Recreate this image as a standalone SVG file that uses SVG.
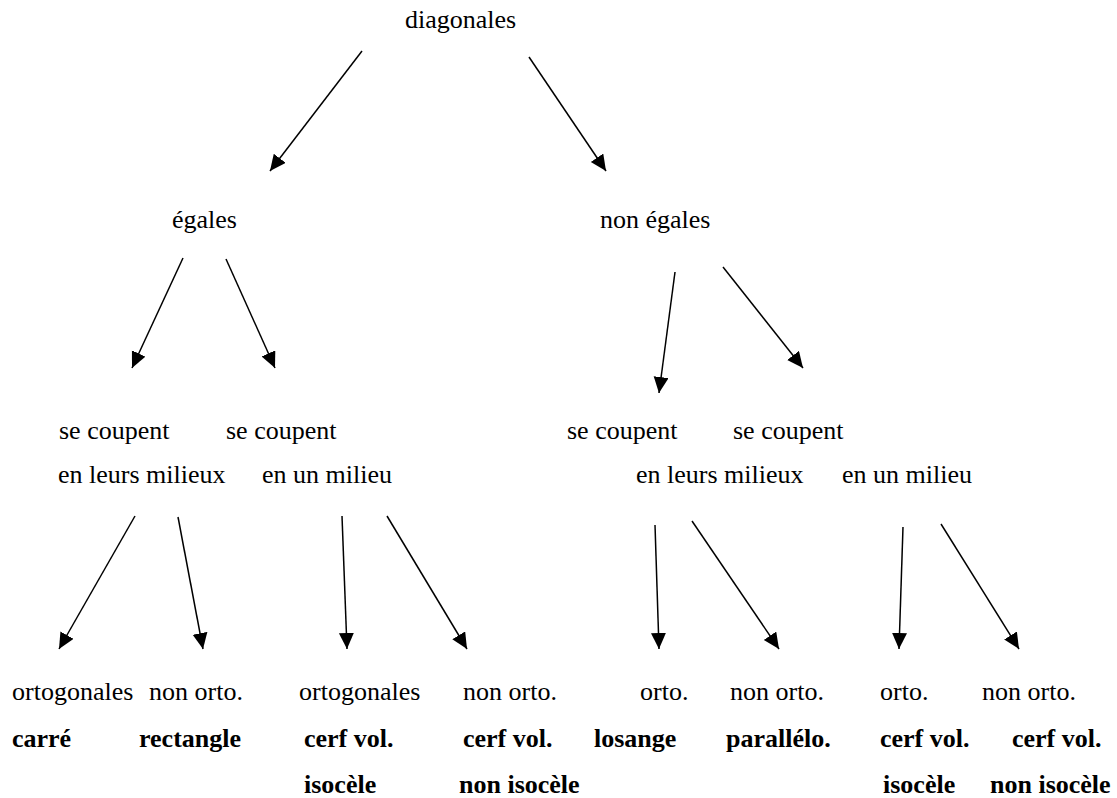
<svg xmlns="http://www.w3.org/2000/svg" width="1117" height="798" viewBox="0 0 1117 798">
  <defs>
    <style>
      text { font-family: "Liberation Serif", Tinos, "Times New Roman", "DejaVu Serif", "Noto Serif", FreeSerif, serif; font-size: 26px; fill: #000; }
      .b { font-weight: bold; }
      .edge { stroke: #000; stroke-width: 1.5; fill: none; marker-end: url(#head); }
    </style>
    <marker id="head" markerUnits="userSpaceOnUse" markerWidth="17" markerHeight="16" refX="16" refY="7.5" orient="auto">
      <path d="M0,0 L16,7.5 L0,15 z" fill="#000"/>
    </marker>
  </defs>
  <rect width="1117" height="798" fill="#fff"/>

  <!-- tree levels -->
  <g id="root"><text x="405" y="28">diagonales</text></g>
  <g id="egales"><text x="172" y="228">égales</text></g>
  <g id="non-egales"><text x="600" y="228">non égales</text></g>

  <g id="eg-milieux"><text x="59" y="439">se coupent</text><text x="58" y="483">en leurs milieux</text></g>
  <g id="eg-un-milieu"><text x="226" y="439">se coupent</text><text x="262" y="483">en un milieu</text></g>
  <g id="neg-milieux"><text x="567" y="439">se coupent</text><text x="636" y="483">en leurs milieux</text></g>
  <g id="neg-un-milieu"><text x="733" y="439">se coupent</text><text x="842" y="483">en un milieu</text></g>

  <g id="carre"><text x="12" y="700">ortogonales</text><text class="b" x="12" y="747">carré</text></g>
  <g id="rectangle"><text x="149" y="700">non orto.</text><text class="b" x="139" y="747">rectangle</text></g>
  <g id="cerf-iso-1"><text x="299" y="700">ortogonales</text><text class="b" x="304" y="747">cerf vol.</text><text class="b" x="304" y="793">isocèle</text></g>
  <g id="cerf-noniso-1"><text x="463" y="700">non orto.</text><text class="b" x="463" y="747">cerf vol.</text><text class="b" x="459" y="793">non isocèle</text></g>
  <g id="losange"><text x="640" y="700">orto.</text><text class="b" x="594" y="747">losange</text></g>
  <g id="parallelo"><text x="730" y="700">non orto.</text><text class="b" x="726" y="747">parallélo.</text></g>
  <g id="cerf-iso-2"><text x="880" y="700">orto.</text><text class="b" x="880" y="747">cerf vol.</text><text class="b" x="883" y="793">isocèle</text></g>
  <g id="cerf-noniso-2"><text x="982" y="700">non orto.</text><text class="b" x="1012" y="747">cerf vol.</text><text class="b" x="990" y="793">non isocèle</text></g>

  <!-- connectors -->
  <g id="connectors">
    <line class="edge" x1="362" y1="51" x2="270" y2="171"/>
    <line class="edge" x1="529" y1="57" x2="606" y2="171"/>
    <line class="edge" x1="183" y1="258" x2="132" y2="368"/>
    <line class="edge" x1="226" y1="259" x2="275" y2="368"/>
    <line class="edge" x1="675" y1="272" x2="659" y2="393"/>
    <line class="edge" x1="723" y1="267" x2="803" y2="368"/>
    <line class="edge" x1="135" y1="516" x2="59" y2="649"/>
    <line class="edge" x1="178" y1="517" x2="203" y2="649"/>
    <line class="edge" x1="342" y1="516" x2="347" y2="649"/>
    <line class="edge" x1="387" y1="516" x2="467" y2="649"/>
    <line class="edge" x1="655" y1="525" x2="659" y2="649"/>
    <line class="edge" x1="692" y1="521" x2="779" y2="649"/>
    <line class="edge" x1="903" y1="527" x2="899" y2="649"/>
    <line class="edge" x1="941" y1="524" x2="1019" y2="649"/>
  </g>
</svg>
